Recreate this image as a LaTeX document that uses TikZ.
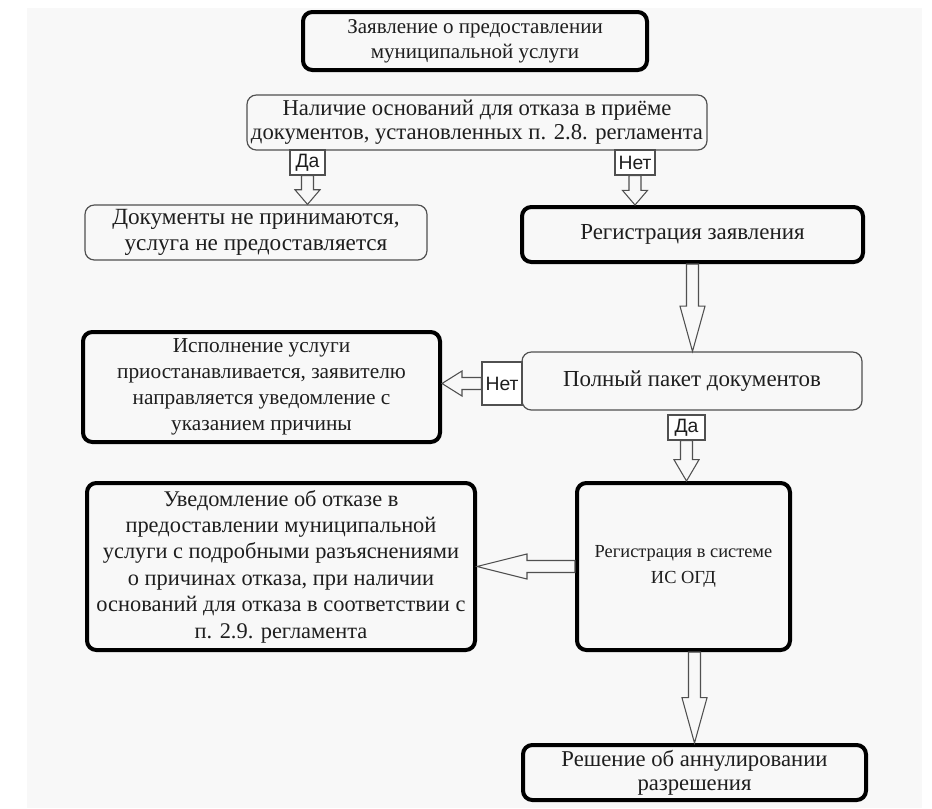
\documentclass[tikz,border=0pt]{standalone}
\usepackage{fontspec}
\setmainfont{Liberation Serif}
\newfontfamily\labelfont{Liberation Sans}
\usepackage{xcolor}
\usepackage{tikz}
\usetikzlibrary{calc}

\definecolor{bggray}{HTML}{F8F8F8}
\definecolor{thinline}{HTML}{505050}
\definecolor{textcol}{HTML}{1E1E1E}

\tikzset{
  boxthick/.style={draw=black,line width=3pt,rounded corners=7pt,align=center,inner sep=0pt,
    text=textcol,font=\fontsize{15.75}{18}\selectfont},
  boxthin/.style={boxthick,draw=thinline,line width=0.9pt},
  fsize/.style 2 args={font=\fontsize{#1}{#2}\selectfont},
  yesno/.style={draw=thinline,line width=0.8pt,fill=white,inner sep=0pt,text=textcol,
    font=\labelfont\fontsize{14.5}{16}\selectfont},
  blockarrow/.style={draw=thinline,line width=0.8pt,
    to path={coordinate (bA) at ($(\tikztotarget)!#1!(\tikztostart)$)
      ($(\tikztostart)!4.5pt!90:(\tikztotarget)$)
      -- ($(bA)!4.5pt!-90:(\tikztostart)$)
      -- ($(bA)!9.4pt!-90:(\tikztostart)$)
      -- (\tikztotarget)
      -- ($(bA)!9.4pt!90:(\tikztostart)$)
      -- ($(bA)!4.5pt!90:(\tikztostart)$)
      -- ($(\tikztostart)!4.5pt!-90:(\tikztotarget)$) -- cycle}},
  blockarrow/.default=34pt
}

\begin{document}
\begin{tikzpicture}[x=0.75pt,y=-0.75pt]
        \useasboundingbox (0,0) rectangle (932,808);
        \fill[bggray] (27,8) rectangle (922,808);
        % Boxes
        \node[boxthick,fsize={15.75}{18.75},minimum width=258pt,minimum height=43.5pt] (zayav) at (475,41)
          {Заявление о предоставлении\\муниципальной услуги};
        \node[boxthin,fsize={17}{18},minimum width=345pt,minimum height=41.25pt] (nalich) at (477,122.5)
          {Наличие оснований для отказа в приёме\\документов, установленных п. 2.8. регламента};
        \node[boxthin,fsize={17.4}{20},minimum width=256.5pt,minimum height=41.25pt] (otkaz) at (256,232.5)
          {Документы не принимаются,\\услуга не предоставляется};
        \node[boxthick,fsize={17.2}{19},minimum width=255.75pt,minimum height=41.25pt] (reg) at (692.5,234.5)
          {Регистрация заявления};
        \node[boxthin,fsize={17.2}{19},minimum width=255pt,minimum height=43.5pt] (paket) at (692,381)
          {Полный пакет документов};
        \node[boxthick,fsize={16}{19.5},minimum width=267.75pt,minimum height=82.5pt] (ispoln) at (261.5,387)
          {Исполнение услуги\\приостанавливается, заявителю\\направляется уведомление с\\указанием причины};
        \node[boxthick,fsize={13.8}{20},minimum width=159.75pt,minimum height=125.25pt] (sistema) at (683.5,566.5)
          {Регистрация в системе\\ИС ОГД};
        \node[boxthick,fsize={16.8}{19.8},minimum width=291pt,minimum height=125.25pt] (uved) at (281,566.5)
          {Уведомление об отказе в\\предоставлении муниципальной\\услуги с подробными разъяснениями\\о причинах отказа, при наличии\\оснований для отказа в соответствии с\\п. 2.9. регламента};
        \node[boxthick,fsize={17}{18},minimum width=257.25pt,minimum height=41.25pt] (reshenie) at (694.5,772.5)
          {Решение об аннулировании\\разрешения};
        % Answers
        \node[yesno,minimum width=26.25pt,minimum height=18.75pt] (da1) at (307.5,162.5) {Да};
        \node[yesno,minimum width=30pt,minimum height=18.75pt] (net1) at (635,162.5) {Нет};
        \node[yesno,minimum width=30pt,minimum height=32.25pt] (net2) at (502,383.5) {Нет};
        \node[yesno,minimum width=27.75pt,minimum height=18.75pt] (da2) at (686.5,427.5) {Да};
        % Arrows
        \draw[blockarrow=11pt] (da1.south) to (da1.south |- otkaz.north);
        \draw[blockarrow=11pt] (net1.south) to (net1.south |- reg.north);
        \draw[blockarrow] (reg.south) to (reg.south |- paket.north);
        \draw[blockarrow=15pt] (net2.west) to (net2.west -| ispoln.east);
        \draw[blockarrow=16pt] (da2.south) to (da2.south |- sistema.north);
        \draw[blockarrow=37.5pt] (sistema.west) to (sistema.west -| uved.east);
        \draw[blockarrow] (sistema.south -| reshenie.north) to (reshenie.north);
\end{tikzpicture}
\end{document}
